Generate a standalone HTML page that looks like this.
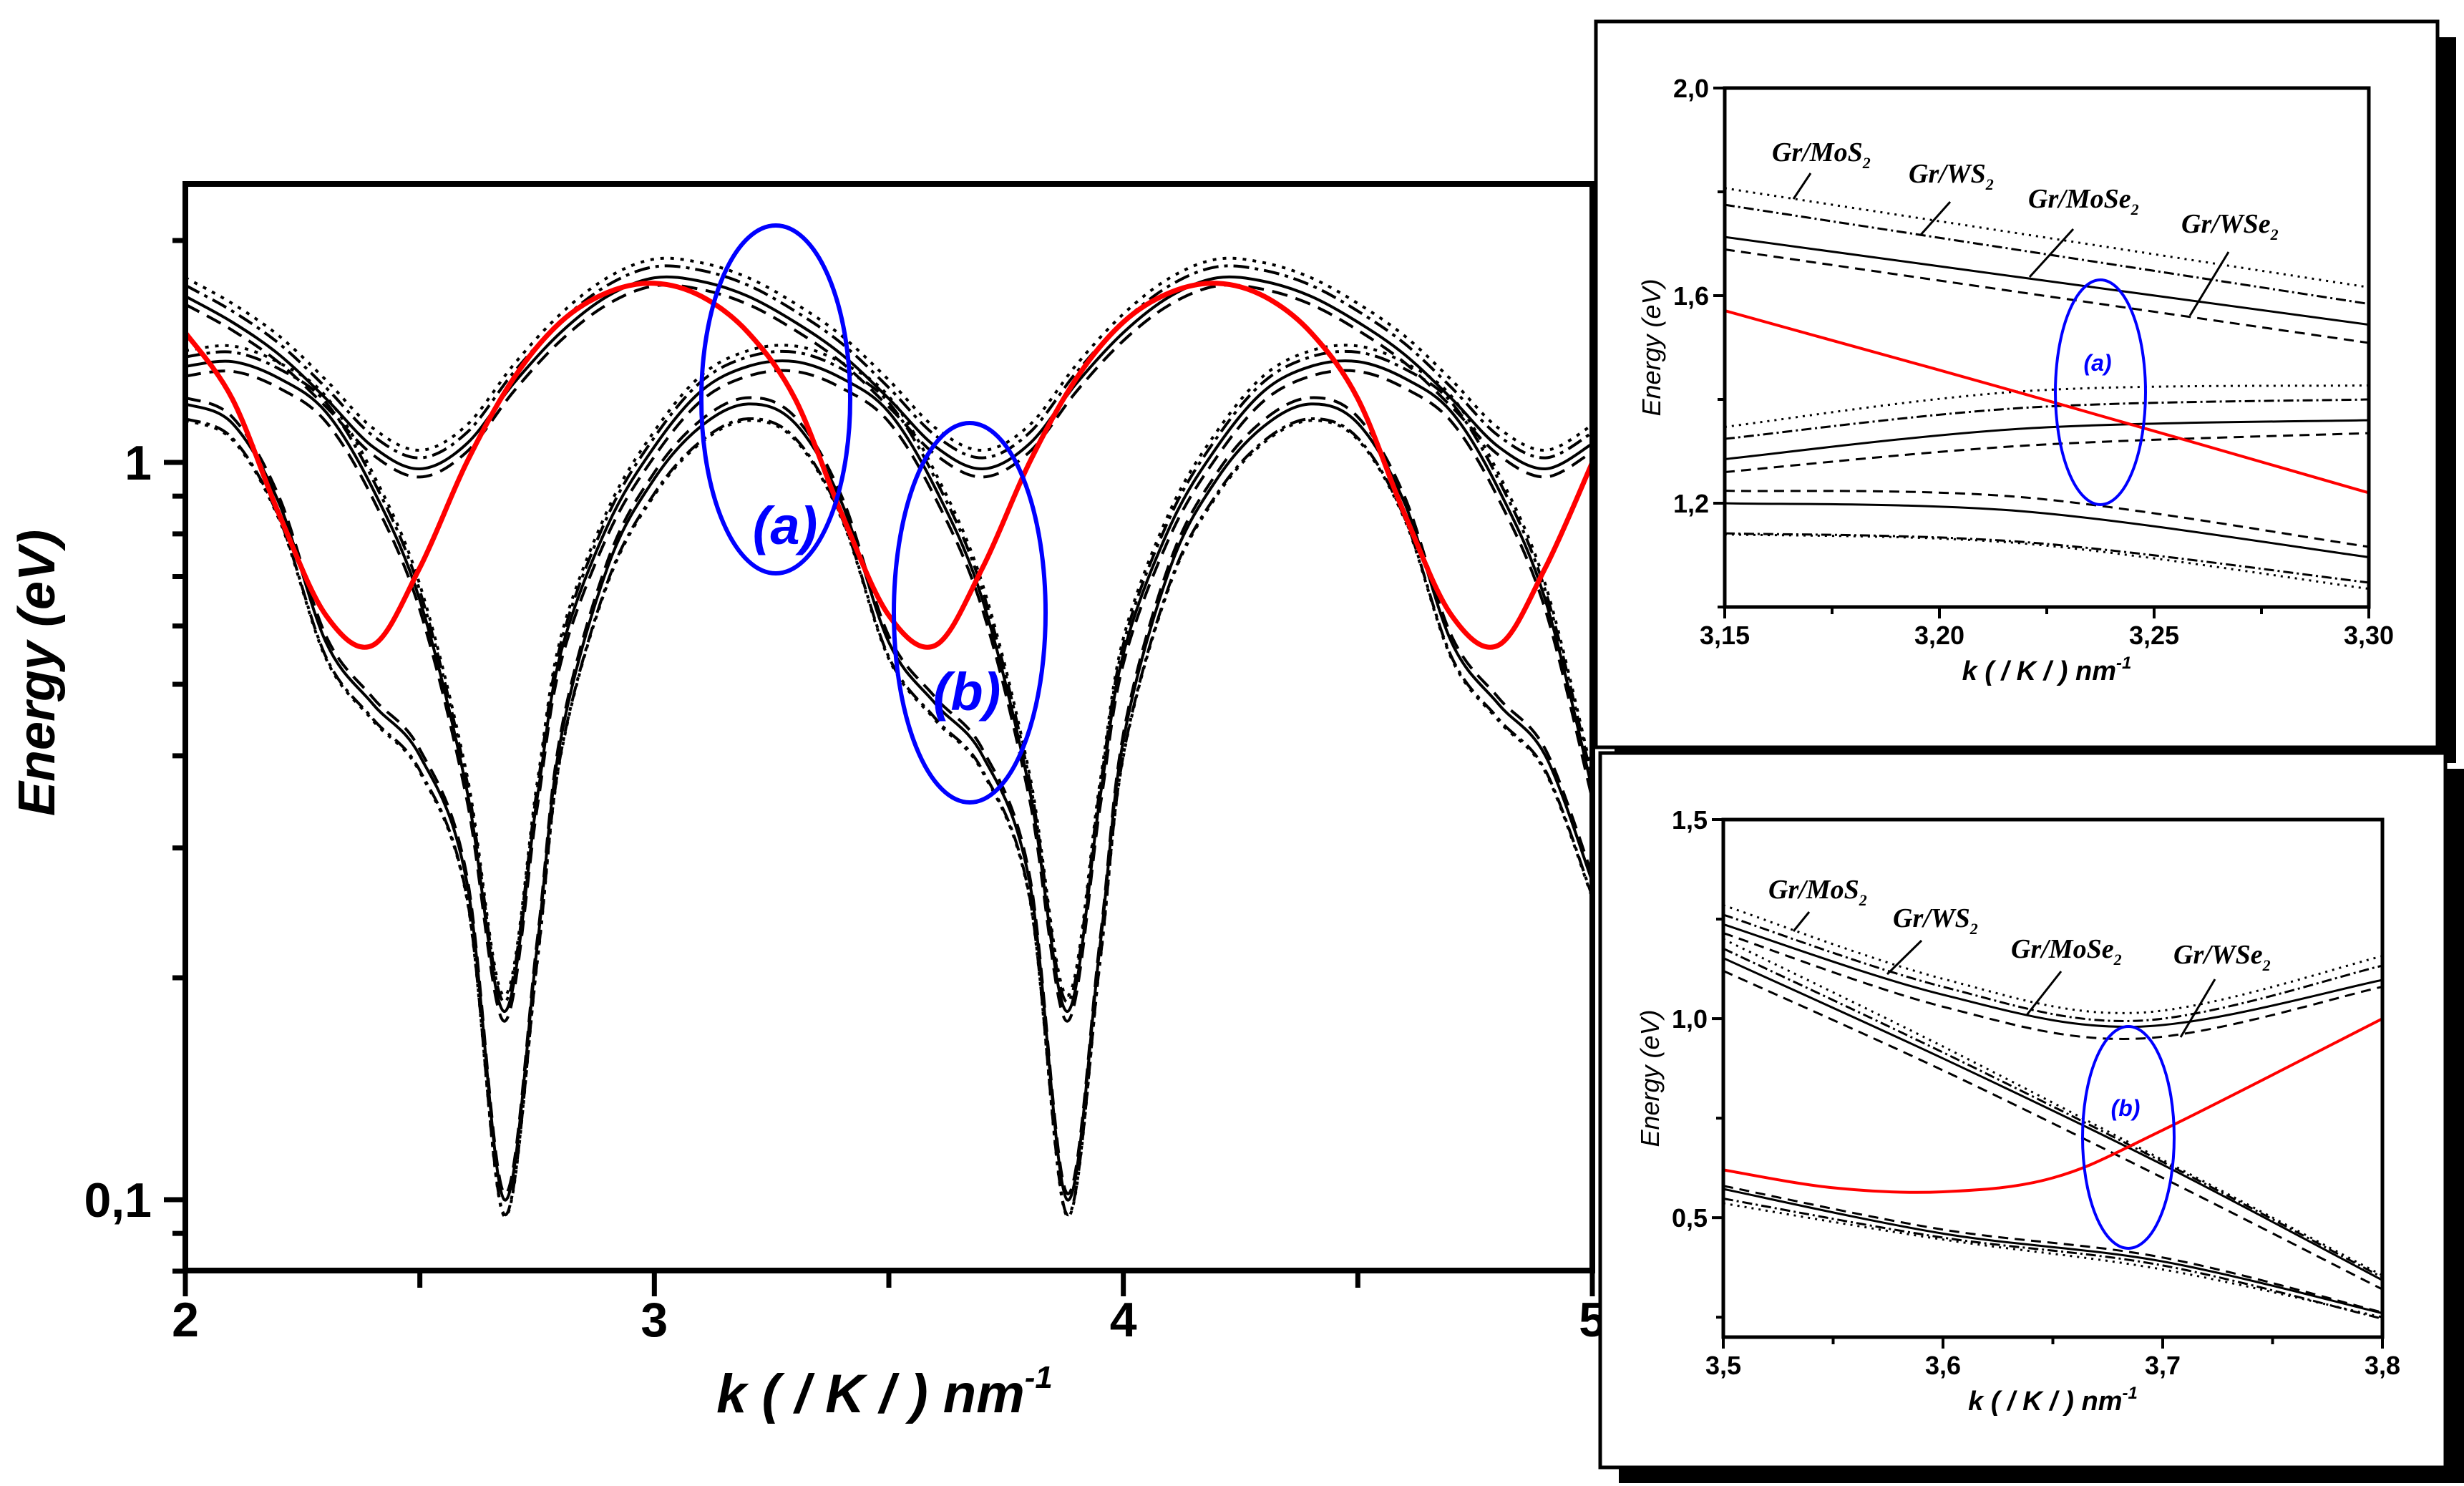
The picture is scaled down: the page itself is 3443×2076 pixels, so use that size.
<!DOCTYPE html>
<html><head><meta charset="utf-8">
<style>
html,body{margin:0;padding:0;background:#fff;}
svg{display:block;}
.tick{font-family:"Liberation Sans Narrow","Liberation Sans",sans-serif;font-weight:bold;}
.lab{font-family:"Liberation Sans",sans-serif;font-weight:bold;font-style:italic;}
.mat{font-family:"Liberation Serif",serif;font-weight:bold;font-style:italic;}
</style></head>
<body>
<svg id="chart" width="3443" height="2076" viewBox="0 0 3443 2076" xmlns="http://www.w3.org/2000/svg">
<defs>
<clipPath id="clipMain"><rect x="259" y="257" width="1966" height="1518"/></clipPath>
<clipPath id="clipI1"><rect x="2410" y="123" width="900" height="743"/></clipPath>
<clipPath id="clipI2"><rect x="2408" y="1145" width="921" height="723"/></clipPath>
</defs>
<g id="main"></g>
<g id="inset1"></g>
<g id="inset2"></g>
</svg>
<script>
// ---------- main plot data ----------
const kMain = [2.0,2.1,2.2,2.3,2.4,2.5,2.6,2.7,2.8,2.9,3.0,3.1,3.2,3.3,3.4,3.5,3.6,3.7,3.8,3.9,4.0,4.1,4.2,4.3,4.4,4.5,4.6,4.7,4.8,4.9,5.0];
const bandA = [1.68,1.55,1.40,1.22,1.05,0.98,1.06,1.28,1.50,1.68,1.78,1.76,1.68,1.55,1.40,1.22,1.05,0.98,1.06,1.28,1.50,1.68,1.78,1.76,1.68,1.55,1.40,1.22,1.05,0.98,1.06];
const redBand = [1.50,1.22,0.85,0.62,0.565,0.72,1.00,1.30,1.55,1.70,1.75,1.68,1.50,1.22,0.85,0.62,0.565,0.72,1.00,1.30,1.55,1.70,1.75,1.68,1.50,1.22,0.85,0.62,0.565,0.72,1.00];
const kBC = [2.0,2.1,2.2,2.3,2.4,2.5,2.6,2.68,2.75,2.8,2.9,3.0,3.1,3.2,3.3,3.4,3.5,3.6,3.7,3.8,3.88,3.95,4.0,4.1,4.2,4.3,4.4,4.5,4.6,4.7,4.8,4.9,5.0];
const bandB = [1.35,1.37,1.30,1.17,0.92,0.65,0.36,0.18,0.35,0.55,0.82,1.05,1.25,1.35,1.37,1.30,1.17,0.92,0.65,0.36,0.18,0.35,0.55,0.82,1.05,1.25,1.35,1.37,1.30,1.17,0.92,0.65,0.36];
const bandC = [1.20,1.13,0.88,0.57,0.47,0.40,0.27,0.10,0.22,0.42,0.72,0.95,1.12,1.20,1.13,0.88,0.57,0.47,0.40,0.27,0.10,0.22,0.42,0.72,0.95,1.12,1.20,1.13,0.88,0.57,0.47,0.40,0.27];
const materials = ["Gr/WSe2","Gr/MoSe2","Gr/WS2","Gr/MoS2"];
const factorA = [1.0,0.975,1.035,1.06];
const factorB = [1.0,0.97,1.03,1.05];
const factorC = [1.0,1.02,0.955,0.95];
const xTicksMain = [2,3,4,5];
const yTicksMain = [0.1,1];
const yTickLabelsMain = ["0,1","1"];

// ---------- inset (a) data ----------
const kI1 = [3.15,3.22,3.30];
const i1A = [[1.713,1.634,1.544],[1.689,1.605,1.509],[1.775,1.686,1.584],[1.807,1.718,1.616]];
const i1B = [[1.285,1.344,1.36],[1.26,1.311,1.335],[1.324,1.384,1.40],[1.347,1.416,1.427]];
const i1C = [[1.20,1.184,1.096],[1.224,1.211,1.116],[1.142,1.125,1.047],[1.14,1.122,1.035]];
const i1Red = [1.571,1.41,1.22];
const i1XTicks = [3.15,3.20,3.25,3.30];
const i1XLabels = ["3,15","3,20","3,25","3,30"];
const i1YTicks = [1.2,1.6,2.0];
const i1YLabels = ["1,2","1,6","2,0"];

// ---------- inset (b) data ----------
const kI2 = [3.5,3.6,3.69,3.8];
const i2A = [[1.237,1.06,0.98,1.097],[1.215,1.03,0.95,1.08],[1.261,1.08,0.995,1.133],[1.285,1.10,1.015,1.157]];
const kI2b = [3.5,3.6,3.7,3.8];
const i2B = [[1.152,0.90,0.633,0.343],[1.12,0.87,0.60,0.32],[1.176,0.915,0.64,0.35],[1.20,0.93,0.645,0.355]];
const i2C = [[0.572,0.46,0.39,0.26],[0.58,0.47,0.40,0.262],[0.548,0.45,0.38,0.246],[0.536,0.445,0.37,0.25]];
const kI2Red = [3.5,3.55,3.6,3.65,3.7,3.8];
const i2Red = [0.62,0.575,0.565,0.60,0.72,1.0];
const i2XTicks = [3.5,3.6,3.7,3.8];
const i2XLabels = ["3,5","3,6","3,7","3,8"];
const i2YTicks = [0.5,1.0,1.5];
const i2YLabels = ["0,5","1,0","1,5"];

const NS = "http://www.w3.org/2000/svg";
const dashes = ["none","22,12","22,8,5,8","5,9"];
const styleNames = ["solid","dashed","dashdot","dotted"];

function mk(parent, tag, attrs, text){
  const el = document.createElementNS(NS, tag);
  for (const k in attrs) el.setAttribute(k, attrs[k]);
  if (text !== undefined) el.textContent = text;
  parent.appendChild(el);
  return el;
}
function smoothPath(pts){
  let d = "M"+pts[0][0].toFixed(1)+","+pts[0][1].toFixed(1);
  for (let i=0;i<pts.length-1;i++){
    const p0=pts[i-1]||pts[i], p1=pts[i], p2=pts[i+1], p3=pts[i+2]||pts[i+1];
    const c1=[p1[0]+(p2[0]-p0[0])/6, p1[1]+(p2[1]-p0[1])/6];
    const c2=[p2[0]-(p3[0]-p1[0])/6, p2[1]-(p3[1]-p1[1])/6];
    d += " C"+c1[0].toFixed(1)+","+c1[1].toFixed(1)+" "+c2[0].toFixed(1)+","+c2[1].toFixed(1)+" "+p2[0].toFixed(1)+","+p2[1].toFixed(1);
  }
  return d;
}

// ================= MAIN =================
(function(){
  const g = document.getElementById("main");
  const L=259,R=2225,T=257,B=1775;
  const x = k => L + (k-2)*(R-L)/3;
  const y1 = 646, dec = 1030;
  const y = v => y1 - dec*Math.log10(v);
  const curves = mk(g,"g",{"clip-path":"url(#clipMain)"});
  
  
  const bands = [["a",kMain,bandA,factorA],["b",kBC,bandB,factorB],["c",kBC,bandC,factorC]];
  bands.forEach(b=>{
    for (let m=0;m<4;m++){
      const pts = b[1].map((k,i)=>[x(k), y(b[2][i]*b[3][m])]);
      const p = mk(curves,"path",{d:smoothPath(pts),fill:"none",stroke:"#000","stroke-width":4,"stroke-dasharray":dashes[m]});
      
      
    }
  });
  const red = mk(curves,"path",{d:smoothPath(kMain.map((k,i)=>[x(k),y(redBand[i])])),fill:"none",stroke:"#f00","stroke-width":7});
  
  
  // frame
  const fr = mk(g,"rect",{x:L,y:T,width:R-L,height:B-T,fill:"none",stroke:"#000","stroke-width":8});
  
  
  // x ticks
  for (let k=2;k<=5.001;k+=0.5){
    const maj = Math.abs(k-Math.round(k))<1e-6;
    const t = mk(g,"line",{x1:x(k),x2:x(k),y1:B,y2:B+(maj?36:24),stroke:"#000","stroke-width":7});
    
    
  }
  xTicksMain.forEach(k=>{
    const t = mk(g,"text",{x:x(k),y:1867,"text-anchor":"middle","font-size":68,class:"tick"},String(k));
    
    
  });
  // y ticks (log)
  [0.08,0.09,0.1,0.2,0.3,0.4,0.5,0.6,0.7,0.8,0.9,1,2].forEach(v=>{
    const maj = (v===0.1||v===1);
    const t = mk(g,"line",{x1:L,x2:L-(maj?30:18),y1:y(v),y2:y(v),stroke:"#000","stroke-width":7});
    
    
  });
  yTicksMain.forEach((v,i)=>{
    const t = mk(g,"text",{x:212,y:y(v)+24,"text-anchor":"end","font-size":68,class:"tick"},yTickLabelsMain[i]);
    
    
  });
  const yl = mk(g,"text",{x:0,y:0,transform:"translate(76,940) rotate(-90)","text-anchor":"middle","font-size":72,class:"lab"},"Energy (eV)");
  
  
  const xl = mk(g,"text",{x:1236,y:1973,"text-anchor":"middle","font-size":76,class:"lab"},"k ( / K / ) nm");
  
  
  mk(xl,"tspan",{"font-size":44,dy:-34},"-1");
  // ellipses
  const ea = mk(g,"ellipse",{cx:1084,cy:558,rx:104,ry:243,fill:"none",stroke:"#00f","stroke-width":6});
  
  
  const ta = mk(g,"text",{x:1097,y:760,"text-anchor":"middle","font-size":74,fill:"#00f",class:"lab"},"(a)");
  
  
  const eb = mk(g,"ellipse",{cx:1355,cy:856,rx:106,ry:265,fill:"none",stroke:"#00f","stroke-width":6});
  
  
  const tb = mk(g,"text",{x:1351,y:992,"text-anchor":"middle","font-size":74,fill:"#00f",class:"lab"},"(b)");
  
  
})();

// ================= INSETS =================
function drawInset(gid, cfg){
  const g = document.getElementById(gid);
  const sh = mk(g,"rect",{x:cfg.fx+26,y:cfg.fy+22,width:cfg.fw,height:cfg.fh,fill:"#000"});
  
  
  const fr = mk(g,"rect",{x:cfg.fx,y:cfg.fy,width:cfg.fw,height:cfg.fh,fill:"#fff",stroke:"#000","stroke-width":5});
  
  
  const {L,R,T,B,x0,x1,y0,y1v} = cfg;
  const x = k => L + (k-x0)*(R-L)/(x1-x0);
  const y = v => B - (v-y0)*(B-T)/(y1v-y0);
  const cg = mk(g,"g",{"clip-path":"url(#"+cfg.clip+")"});
  
  
  cfg.bands.forEach(b=>{
    for (let m=0;m<4;m++){
      const pts = b[1].map((k,i)=>[x(k),y(b[2][m][i])]);
      const p = mk(cg,"path",{d:smoothPath(pts),fill:"none",stroke:"#000","stroke-width":3,"stroke-dasharray":cfg.dash[m]});
      
      
    }
  });
  const rp = mk(cg,"path",{d:smoothPath(cfg.redK.map((k,i)=>[x(k),y(cfg.red[i])])),fill:"none",stroke:"#f00","stroke-width":4});
  
  
  const ax = mk(g,"rect",{x:L,y:T,width:R-L,height:B-T,fill:"none",stroke:"#000","stroke-width":5});
  
  
  cfg.xMinor.forEach(k=>{
    const t = mk(g,"line",{x1:x(k),x2:x(k),y1:B,y2:B+10,stroke:"#000","stroke-width":4});
    
    
  });
  cfg.xTicks.forEach((k,i)=>{
    const t1 = mk(g,"line",{x1:x(k),x2:x(k),y1:B,y2:B+16,stroke:"#000","stroke-width":4});
    
    
    const t = mk(g,"text",{x:x(k),y:B+52,"text-anchor":"middle","font-size":36,class:"tick"},cfg.xLabels[i]);
    
    
  });
  cfg.yMinor.forEach(v=>{
    const t = mk(g,"line",{x1:L,x2:L-10,y1:y(v),y2:y(v),stroke:"#000","stroke-width":4});
    
    
  });
  cfg.yTicks.forEach((v,i)=>{
    const t1 = mk(g,"line",{x1:L,x2:L-16,y1:y(v),y2:y(v),stroke:"#000","stroke-width":4});
    
    
    const t = mk(g,"text",{x:L-22,y:y(v)+13,"text-anchor":"end","font-size":36,class:"tick"},cfg.yLabels[i]);
    
    
  });
  const yl = mk(g,"text",{x:0,y:0,transform:"translate("+(L-90)+","+((T+B)/2)+") rotate(-90)","text-anchor":"middle","font-size":36,class:"lab",style:"font-weight:normal"},"Energy (eV)");
  
  
  const xl = mk(g,"text",{x:(L+R)/2,y:B+102,"text-anchor":"middle","font-size":38,class:"lab"},"k ( / K / ) nm");
  
  
  mk(xl,"tspan",{"font-size":24,dy:-16},"-1");
  cfg.labels.forEach(lb=>{
    const t = mk(g,"text",{x:lb[0],y:lb[1],"font-size":38,class:"mat"},lb[2]);
    
    
    mk(t,"tspan",{"font-size":22,dy:10},"2");
    const ln = mk(g,"line",{x1:lb[3],y1:lb[4],x2:lb[5],y2:lb[6],stroke:"#000","stroke-width":3});
    
    
  });
  const el = mk(g,"ellipse",{cx:cfg.ell[0],cy:cfg.ell[1],rx:cfg.ell[2],ry:cfg.ell[3],fill:"none",stroke:"#00f","stroke-width":4});
  
  
  const et = mk(g,"text",{x:cfg.ell[0]-4,y:cfg.ell[1]-30,"text-anchor":"middle","font-size":32,fill:"#00f",class:"lab"},cfg.ellText);
  
  
}

drawInset("inset1",{fx:2230,fy:30,fw:1176,fh:1014,L:2410,R:3310,T:123,B:848,x0:3.15,x1:3.30,y0:1.0,y1v:2.0,
  clip:"clipI1",dash:["none","14,9","14,5,3,5","3,7"],
  bands:[["a",kI1,i1A],["b",kI1,i1B],["c",kI1,i1C]],redK:kI1,red:i1Red,
  xTicks:i1XTicks,xLabels:i1XLabels,xMinor:[3.175,3.225,3.275],
  yTicks:i1YTicks,yLabels:i1YLabels,yMinor:[1.0,1.4,1.8],
  labels:[[2476,225,"Gr/MoS",2530,242,2506,278],[2667,255,"Gr/WS",2725,282,2683,329],[2834,290,"Gr/MoSe",2897,320,2836,387],[3048,325,"Gr/WSe",3114,352,3060,441]],
  ell:[2935,548,63,157],ellText:"(a)"});
drawInset("inset2",{fx:2236,fy:1052,fw:1181,fh:998,L:2408,R:3329,T:1145,B:1868,x0:3.5,x1:3.8,y0:0.2,y1v:1.5,
  clip:"clipI2",dash:["none","14,9","14,5,3,5","3,7"],
  bands:[["a",kI2,i2A],["b",kI2b,i2B],["c",kI2b,i2C]],redK:kI2Red,red:i2Red,
  xTicks:i2XTicks,xLabels:i2XLabels,xMinor:[3.55,3.65,3.75],
  yTicks:i2YTicks,yLabels:i2YLabels,yMinor:[0.25,0.75,1.25],
  labels:[[2471,1255,"Gr/MoS",2528,1274,2506,1301],[2645,1295,"Gr/WS",2685,1314,2637,1361],[2810,1338,"Gr/MoSe",2880,1357,2832,1418],[3037,1346,"Gr/WSe",3095,1368,3047,1449]],
  ell:[2974,1589,64,155],ellText:"(b)"});
</script>
</body></html>
